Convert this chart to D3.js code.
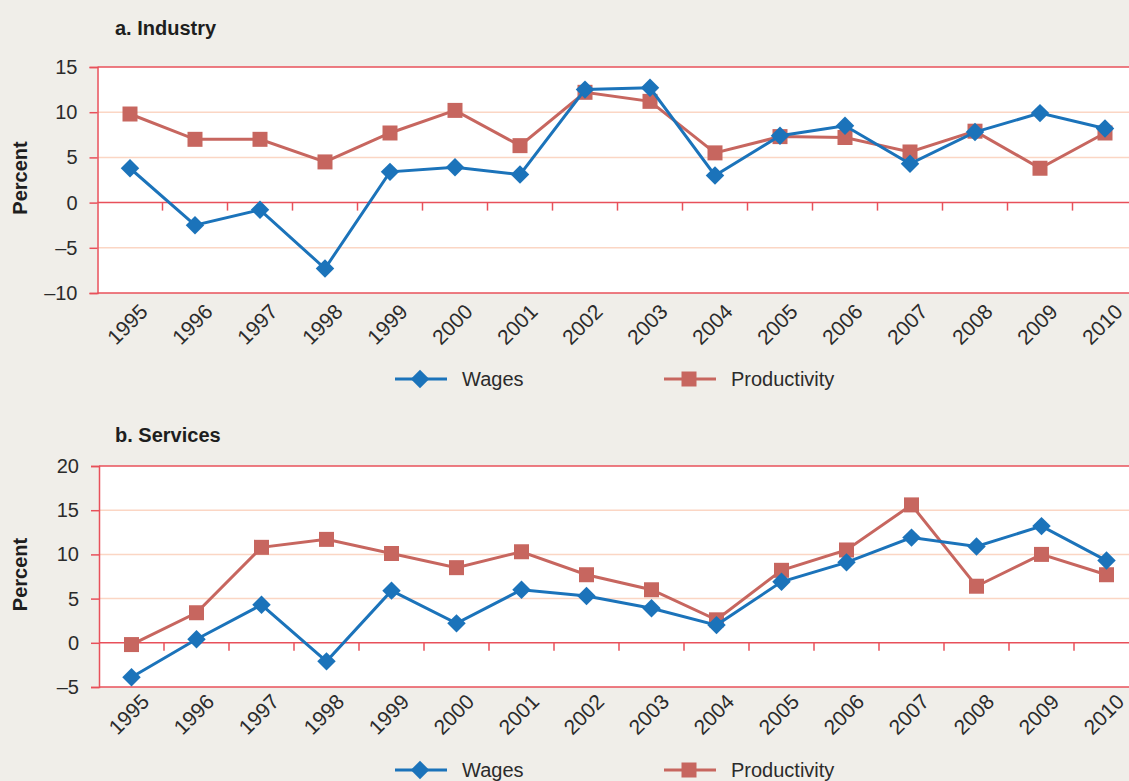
<!DOCTYPE html>
<html>
<head>
<meta charset="utf-8">
<script src="https://cdn.jsdelivr.net/npm/d3@7"></script>
<style>
  body { margin: 0; background: #f0eee9; }
  svg { display: block; font-family: "Liberation Sans", Arial, sans-serif; }
</style>
</head>
<body>
<div id="chart"></div>
<script>
// data
const years = ["1995","1996","1997","1998","1999","2000","2001","2002","2003","2004","2005","2006","2007","2008","2009","2010"];

const industryWages        = [3.8, -2.5, -0.8, -7.3, 3.4, 3.9, 3.1, 12.5, 12.7, 3.0, 7.4, 8.5, 4.3, 7.8, 9.9, 8.2];
const industryProductivity = [9.8, 7.0, 7.0, 4.5, 7.7, 10.2, 6.3, 12.2, 11.2, 5.5, 7.3, 7.2, 5.6, 7.9, 3.8, 7.7];

const servicesWages        = [-3.9, 0.4, 4.3, -2.1, 5.9, 2.2, 6.0, 5.3, 3.9, 2.0, 6.9, 9.1, 11.9, 10.9, 13.2, 9.3];
const servicesProductivity = [-0.2, 3.4, 10.8, 11.7, 10.1, 8.5, 10.3, 7.7, 6.0, 2.6, 8.2, 10.5, 15.6, 6.4, 10.0, 7.7];

const industryTicks = [-10, -5, 0, 5, 10, 15];
const servicesTicks = [-5, 0, 5, 10, 15, 20];

const seriesNames = ["Wages", "Productivity"];

const W = 1129, H = 781;
const blue = "#1b73ba", red = "#c7665f";
const axisRed = "#e8505a", gridPink = "#fbd6c4";

const svg = d3.select("#chart").append("svg")
    .attr("width", W)
    .attr("height", H);

svg.append("rect").attr("width", W).attr("height", H).attr("fill", "#f0eee9");

function drawPanel(cfg){
    const g = svg.append("g");

    const x = d3.scaleBand()
        .domain(years)
        .range([cfg.left, cfg.left + 65 * years.length]);

    const y = d3.scaleLinear()
        .domain([cfg.ticks[0], cfg.ticks[cfg.ticks.length - 1]])
        .range([cfg.bottom, cfg.top]);

    // plot background
    g.append("rect")
        .attr("x", cfg.left)
        .attr("y", cfg.top)
        .attr("width", W - cfg.left)
        .attr("height", cfg.bottom - cfg.top)
        .attr("fill", "#ffffff");

    // gridlines
    g.selectAll(".grid")
        .data(cfg.ticks)
        .enter()
        .append("line")
        .attr("x1", cfg.left)
        .attr("x2", W)
        .attr("y1", (d) => y(d))
        .attr("y2", (d) => y(d))
        .attr("stroke", (d, i) => (d === 0 || i === 0 || i === cfg.ticks.length - 1) ? axisRed : gridPink)
        .attr("stroke-width", 1.5);

    // y axis
    const yAxis = g.append("g")
        .attr("transform", "translate(" + cfg.left + ",0)")
        .call(d3.axisLeft(y).tickValues(cfg.ticks).tickSize(8).tickPadding(12)
            .tickFormat((d) => d < 0 ? "\u2013" + Math.abs(d) : d));
    yAxis.select(".domain").attr("stroke", axisRed).attr("stroke-width", 1.5);
    yAxis.selectAll(".tick line").attr("stroke", axisRed).attr("stroke-width", 1.5);
    yAxis.selectAll(".tick text")
        .attr("fill", "#2b2b2b")
        .attr("font-size", "20px")
        .attr("font-family", "Liberation Sans, Arial, sans-serif");

    // category ticks on the zero line
    g.selectAll(".ctick")
        .data(years.slice(1))
        .enter()
        .append("line")
        .attr("x1", (d) => x(d))
        .attr("x2", (d) => x(d))
        .attr("y1", y(0))
        .attr("y2", y(0) + 8)
        .attr("stroke", axisRed)
        .attr("stroke-width", 1.5);

    // x labels
    g.selectAll(".xlab")
        .data(years)
        .enter()
        .append("text")
        .attr("transform", (d) => "translate(" + (x(d) + x.bandwidth() / 2 + 19) + "," + (cfg.bottom + cfg.labelOff) + ") rotate(-45)")
        .attr("text-anchor", "end")
        .attr("font-size", "21px")
        .attr("fill", "#2b2b2b")
        .text((d) => d);

    // title and axis label
    g.append("text")
        .attr("x", 115)
        .attr("y", cfg.titleY)
        .attr("font-size", "20px")
        .attr("font-weight", "bold")
        .attr("fill", "#1e1e1e")
        .text(cfg.title);

    g.append("text")
        .attr("transform", "translate(27," + ((cfg.top + cfg.bottom) / 2 - 2) + ") rotate(-90)")
        .attr("text-anchor", "middle")
        .attr("font-size", "20px")
        .attr("font-weight", "bold")
        .attr("fill", "#1e1e1e")
        .text("Percent");

    const line = d3.line()
        .x((d, i) => x(years[i]) + x.bandwidth() / 2)
        .y((d) => y(d));

    const marks = g.append("g");

    marks.append("path")
        .datum(cfg.prod)
        .attr("d", line)
        .attr("fill", "none")
        .attr("stroke", red)
        .attr("stroke-width", 3);

    marks.selectAll(".sq")
        .data(cfg.prod)
        .enter()
        .append("path")
        .attr("d", d3.symbol(d3.symbolSquare, 225))
        .attr("transform", (d, i) => "translate(" + (x(years[i]) + x.bandwidth() / 2) + "," + y(d) + ")")
        .attr("fill", red);

    marks.append("path")
        .datum(cfg.wages)
        .attr("d", line)
        .attr("fill", "none")
        .attr("stroke", blue)
        .attr("stroke-width", 3);

    marks.selectAll(".dm")
        .data(cfg.wages)
        .enter()
        .append("path")
        .attr("d", d3.symbol(d3.symbolSquare, 170))
        .attr("transform", (d, i) => "translate(" + (x(years[i]) + x.bandwidth() / 2) + "," + y(d) + ") rotate(45)")
        .attr("fill", blue);

    // legend
    const leg = g.append("g").attr("transform", "translate(0," + cfg.legendY + ")");
    const items = [
        {name: seriesNames[0], x0: 395, color: blue, rot: 45, area: 170},
        {name: seriesNames[1], x0: 664, color: red, rot: 0, area: 225}
    ];
    items.forEach((it) => {
        leg.append("line")
            .attr("x1", it.x0).attr("x2", it.x0 + 52)
            .attr("y1", 0).attr("y2", 0)
            .attr("stroke", it.color)
            .attr("stroke-width", 3);
        leg.append("path")
            .attr("d", d3.symbol(d3.symbolSquare, it.area))
            .attr("transform", "translate(" + (it.x0 + 25) + ",0) rotate(" + it.rot + ")")
            .attr("fill", it.color);
        leg.append("text")
            .attr("x", it.x0 + 67)
            .attr("y", 7)
            .attr("font-size", "20px")
            .attr("fill", "#2b2b2b")
            .text(it.name);
    });
}

drawPanel({
    title: "a. Industry", titleY: 35,
    left: 97.5, top: 67, bottom: 293, labelOff: 20,
    ticks: industryTicks,
    wages: industryWages, prod: industryProductivity,
    legendY: 379
});

drawPanel({
    title: "b. Services", titleY: 442,
    left: 99, top: 466, bottom: 687, labelOff: 16,
    ticks: servicesTicks,
    wages: servicesWages, prod: servicesProductivity,
    legendY: 770
});
</script>
</body>
</html>
